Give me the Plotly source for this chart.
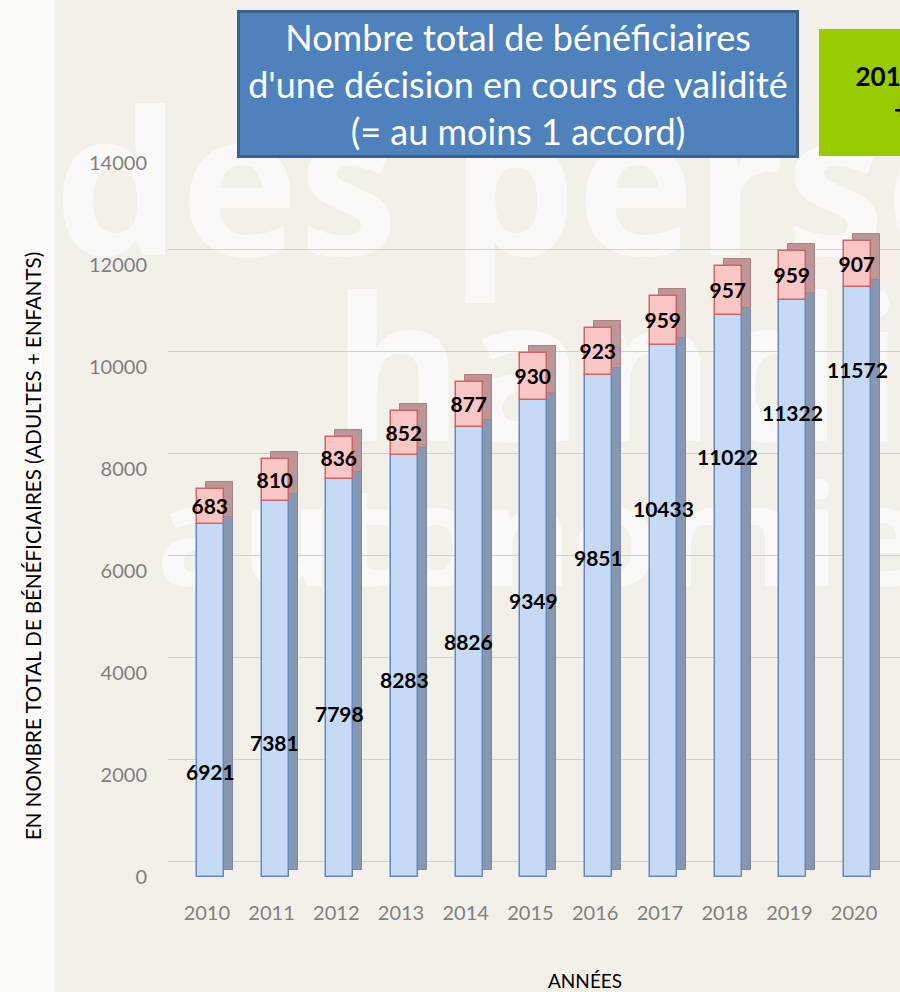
import plotly.graph_objects as go

years = ["2010", "2011", "2012", "2013", "2014", "2015", "2016", "2017", "2018", "2019", "2020"]
beneficiaires = [6921, 7381, 7798, 8283, 8826, 9349, 9851, 10433, 11022, 11322, 11572]
en_plus = [683, 810, 836, 852, 877, 930, 923, 959, 957, 959, 907]
y_ticks = [0, 2000, 4000, 6000, 8000, 10000, 12000, 14000]
y_ticktext = ["0", "2000", "4000", "6000", "8000", "10000", "12000", "14000"]

idx = list(range(len(years)))
FONT = "Lato"

# 3D look: depth offsets
front_off, bar_w = -0.155, 0.418
dx, dy = 0.139, 135

fig = go.Figure()

# side faces (behind)
fig.add_trace(go.Bar(x=idx, y=beneficiaires, base=[dy] * len(idx), offset=front_off + dx, width=bar_w,
                     marker=dict(color="#8797b2", line=dict(color="#7b8aa6", width=1)),
                     hoverinfo="skip", showlegend=False))
fig.add_trace(go.Bar(x=idx, y=en_plus, base=[b + dy for b in beneficiaires], offset=front_off + dx, width=bar_w,
                     marker=dict(color="#bc9696", line=dict(color="#b07f80", width=1)),
                     hoverinfo="skip", showlegend=False))
# front faces
fig.add_trace(go.Bar(x=idx, y=beneficiaires, base=[0] * len(idx), offset=front_off, width=bar_w,
                     marker=dict(color="#c6daf6", line=dict(color="#6489c2", width=1.5)),
                     showlegend=False))
fig.add_trace(go.Bar(x=idx, y=en_plus, base=beneficiaires, offset=front_off, width=bar_w,
                     marker=dict(color="#f9c6c6", line=dict(color="#cf6466", width=1.5)),
                     text=[str(v) for v in en_plus], textposition="inside", insidetextanchor="middle",
                     textangle=0, constraintext="none",
                     textfont=dict(family=FONT, size=21, color="black", weight="bold"),
                     showlegend=False))

# invisible trace on the back-wall axis (for gridlines)
fig.add_trace(go.Scatter(x=[0], y=[0], yaxis="y2", mode="markers", marker=dict(opacity=0),
                         hoverinfo="skip", showlegend=False))

annotations = []
for i, (yr, v) in enumerate(zip(years, beneficiaires)):
    frac = 0.30 + 0.056 * i
    annotations.append(dict(x=i + 0.05, y=v * frac, xref="x", yref="y", text=f"<b>{v}</b>",
                            showarrow=False, font=dict(family=FONT, size=21, color="black")))

annotations += [
    dict(xref="paper", yref="paper", x=0.4781, y=1.1113, xanchor="center", yanchor="middle",
         text="Nombre total de bénéficiaires<br>d'une décision en cours de validité<br>(= au moins 1 accord)",
         showarrow=False, font=dict(family=FONT, size=36, color="white"), align="center",
         bgcolor="#4f81bd", bordercolor="#3b5f8e", borderwidth=3, width=554, height=140),
    dict(xref="paper", yref="paper", x=1.0369, y=1.0988, xanchor="center", yanchor="middle",
         text="<b>2010 - 2020</b><br><b>+64%</b>", showarrow=False,
         font=dict(family=FONT, size=26, color="black"), align="center",
         bgcolor="#99cc00", borderwidth=0, width=214, height=125),
    dict(xref="paper", yref="paper", x=-0.1844, y=0.4636, xanchor="center", yanchor="middle",
         text="EN NOMBRE TOTAL DE BÉNÉFICIAIRES (ADULTES + ENFANTS)", textangle=-90,
         showarrow=False, font=dict(family=FONT, size=20.5, color="black")),
    dict(xref="paper", yref="paper", x=0.5697, y=-0.1443, xanchor="center", yanchor="middle",
         text="ANNÉES", showarrow=False, font=dict(family=FONT, size=19, color="black")),
]

wm = "rgba(255,255,255,0.6)"
shapes = [
    dict(type="rect", xref="paper", yref="paper", x0=-0.23, x1=-0.155, y0=-0.2, y1=1.25,
         fillcolor="#fbfaf7", line=dict(width=0), layer="below"),
    dict(type="rect", xref="paper", yref="paper", x0=-0.16, x1=1.3, y0=0.81, y1=1.11,
         fillcolor="rgba(0,0,0,0)", line=dict(width=0), layer="below",
         label=dict(text="des perso", textposition="middle left", padding=0,
                    font=dict(family="Open Sans", size=200, color=wm, weight="bold"))),
    dict(type="rect", xref="paper", yref="paper", x0=0.22, x1=1.3, y0=0.57, y1=0.83,
         fillcolor="rgba(0,0,0,0)", line=dict(width=0), layer="below",
         label=dict(text="handi", textposition="middle left", padding=0,
                    font=dict(family="Open Sans", size=200, color=wm, weight="bold"))),
    dict(type="rect", xref="paper", yref="paper", x0=-0.02, x1=1.3, y0=0.37, y1=0.57,
         fillcolor="rgba(0,0,0,0)", line=dict(width=0), layer="below",
         label=dict(text="autonomie d", textposition="middle left", padding=0,
                    font=dict(family="Open Sans", size=140, color=wm, weight="bold"))),
]

fig.update_layout(
    width=900, height=992,
    margin=dict(l=168, r=0, t=163, b=115),
    paper_bgcolor="#f3f0ea", plot_bgcolor="rgba(0,0,0,0)",
    barmode="overlay", bargap=0,
    xaxis=dict(range=[-0.6, 10.71], tickvals=idx, ticktext=years, showgrid=False, zeroline=False,
               showline=False, ticks="", ticklabelstandoff=22,
               tickfont=dict(family=FONT, size=20, color="#7f7f7f"), fixedrange=True),
    yaxis=dict(range=[0, 14000], tickvals=y_ticks, ticktext=y_ticktext, showgrid=False, zeroline=False,
               showline=False, ticks="", ticklabelstandoff=20,
               tickfont=dict(family=FONT, size=20, color="#7f7f7f")),
    yaxis2=dict(range=[-313, 13687], overlaying="y", tickvals=y_ticks, showgrid=True,
                gridcolor="#d3d1cd", gridwidth=1, showticklabels=False, zeroline=False, showline=False),
    annotations=annotations,
    shapes=shapes,
)

fig.write_html("out.html", config={"displayModeBar": False},
               post_script="document.body.style.margin='0';document.body.style.overflow='hidden';")
